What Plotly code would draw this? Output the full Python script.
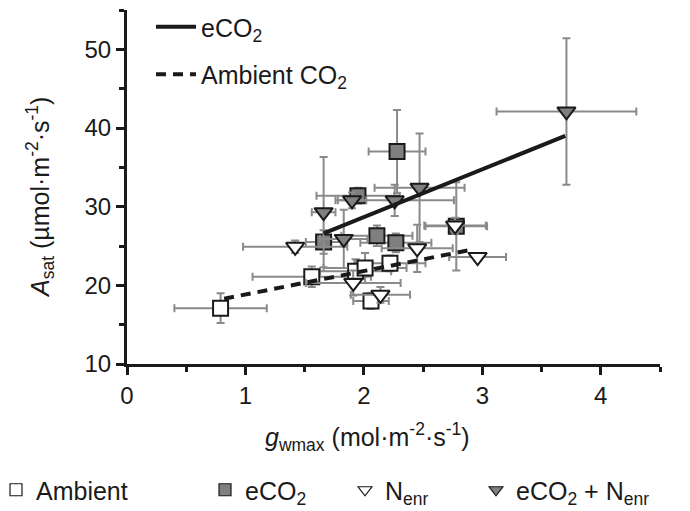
import plotly.graph_objects as go

# ---- data ----
amb_x = [0.79, 1.56, 1.93, 2.01, 2.22, 2.06]
amb_y = [17.1, 21.1, 21.8, 22.2, 22.8, 18.0]
amb_xerr = [0.39, 0.50, 0.30, 0.35, 0.30, 0.15]
amb_yerr = [1.9, 1.3, 1.5, 1.9, 1.0, 1.0]

eco2_x = [1.66, 1.95, 2.28, 2.11, 2.27, 2.78]
eco2_y = [25.5, 31.4, 37.0, 26.3, 25.4, 27.5]
eco2_xerr = [0.15, 0.35, 0.24, 0.30, 0.30, 0.26]
eco2_yerr = [1.5, 1.0, 5.3, 1.3, 1.2, 5.6]

nenr_x = [1.42, 1.91, 2.14, 2.45, 2.77, 2.96]
nenr_y = [24.9, 20.3, 18.8, 24.7, 27.6, 23.6]
nenr_xerr = [0.44, 0.40, 0.25, 0.30, 0.26, 0.24]
nenr_yerr = [0.8, 1.6, 1.0, 3.0, 1.0, 0.5]

en_x = [1.66, 1.83, 1.90, 2.26, 2.47, 3.71]
en_y = [29.3, 25.9, 30.8, 30.8, 32.4, 42.1]
en_xerr = [0.10, 0.20, 0.12, 0.50, 0.38, 0.59]
en_yerr = [7.0, 3.7, 1.0, 2.0, 6.9, 9.3]

fit_eco2_x = [1.66, 3.70]
fit_eco2_y = [26.6, 39.0]
fit_amb_x = [0.82, 2.90]
fit_amb_y = [18.3, 24.5]

x_ticks = [0, 1, 2, 3, 4]
y_ticks = [10, 20, 30, 40, 50]

FONT = "Liberation Sans, Arial, sans-serif"
GRAY = "#7f7f7f"
ERR = "#8a8a8a"
EDGE = "#1a1a1a"

fig = go.Figure()

def add_group(x, y, xe, ye, symbol, fill, size):
    fig.add_trace(go.Scatter(
        x=x, y=y, mode="markers", showlegend=False,
        marker=dict(symbol=symbol, size=size, color=fill,
                    line=dict(color=EDGE, width=2)),
        error_x=dict(type="data", array=xe, color=ERR, thickness=2, width=4),
        error_y=dict(type="data", array=ye, color=ERR, thickness=2, width=4),
    ))

add_group(amb_x, amb_y, amb_xerr, amb_yerr, "square", "white", 15)
add_group(eco2_x, eco2_y, eco2_xerr, eco2_yerr, "square", GRAY, 15)
add_group(nenr_x, nenr_y, nenr_xerr, nenr_yerr, "triangle-down", "white", 16)
add_group(en_x, en_y, en_xerr, en_yerr, "triangle-down", GRAY, 16)

# regression lines
fig.add_trace(go.Scatter(x=fit_eco2_x, y=fit_eco2_y, mode="lines",
                         name="eCO<sub>2</sub>", legendgroup="a",
                         line=dict(color="#1a1a1a", width=4)))
fig.add_trace(go.Scatter(x=fit_amb_x, y=fit_amb_y, mode="lines",
                         name="Ambient CO<sub>2</sub>", legendgroup="b",
                         line=dict(color="#1a1a1a", width=4, dash="10px,7px")))

# bottom legend entries (symbols only)
bottom = [("Ambient", "square", "white", "legend2"),
          ("eCO<sub>2</sub>", "square", GRAY, "legend3"),
          ("N<sub>enr</sub>", "triangle-down", "white", "legend4"),
          ("eCO<sub>2</sub> + N<sub>enr</sub>", "triangle-down", GRAY, "legend5")]
for name, sym, fill, lg in bottom:
    fig.add_trace(go.Scatter(x=[None], y=[None], mode="markers", name=name,
                             legend=lg,
                             marker=dict(symbol=sym, size=12, color=fill,
                                         line=dict(color=EDGE, width=1.2))))

# page body has an 8px margin; figure is sized to fit the window
OFF = 8
W, H = 690 - OFF, 511 - OFF
L, R, T = 127 - OFF, 30, 10 - OFF
B = H - (364 - OFF)
pw = W - L - R
ph = H - T - B

def px2paper(px):
    return (px - OFF - L) / pw

def py2paper(py):
    return (H - B - (py - OFF)) / ph

FS = 25
leg_common = dict(font=dict(family=FONT, size=FS, color="#1a1a1a"),
                  bgcolor="rgba(0,0,0,0)", orientation="h",
                  xanchor="left", yanchor="middle", itemwidth=30)

fig.update_layout(
    width=W, height=H,
    margin=dict(l=L, r=R, t=T, b=B, autoexpand=False),
    paper_bgcolor="white", plot_bgcolor="white",
    font=dict(family=FONT, size=FS, color="#1a1a1a"),
    legend=dict(x=px2paper(151), y=py2paper(4), xanchor="left", yanchor="top",
                font=dict(family=FONT, size=FS, color="#1a1a1a"),
                bgcolor="rgba(0,0,0,0)", tracegroupgap=12,
                traceorder="grouped", itemwidth=40),
    legend2=dict(leg_common, x=px2paper(-4), y=py2paper(490)),
    legend3=dict(leg_common, x=px2paper(205), y=py2paper(490)),
    legend4=dict(leg_common, x=px2paper(345), y=py2paper(490)),
    legend5=dict(leg_common, x=px2paper(476), y=py2paper(490)),
    xaxis=dict(range=[0, 4.5], tickvals=x_ticks, ticks="outside",
               ticklen=8, tickwidth=3, tickcolor="#1a1a1a",
               showline=True, linewidth=3, linecolor="#1a1a1a",
               showgrid=False, zeroline=False, automargin=False,
               tickfont=dict(family=FONT, size=24),
               minor=dict(dtick=0.5, ticks="outside", ticklen=5,
                          tickwidth=3, tickcolor="#1a1a1a", showgrid=False)),
    yaxis=dict(range=[10, 55], tickvals=y_ticks, ticks="outside",
               ticklen=8, tickwidth=3, tickcolor="#1a1a1a",
               showline=True, linewidth=3, linecolor="#1a1a1a",
               showgrid=False, zeroline=False, automargin=False,
               tickfont=dict(family=FONT, size=24),
               minor=dict(dtick=5, ticks="outside", ticklen=5,
                          tickwidth=3, tickcolor="#1a1a1a", showgrid=False)),
    annotations=[
        dict(text="<i>g</i><sub>wmax</sub> (mol·m<sup>-2</sup>·s<sup>-1</sup>)",
             xref="paper", yref="paper", x=px2paper(367), y=py2paper(437),
             xanchor="center", yanchor="middle", showarrow=False,
             font=dict(family=FONT, size=FS, color="#1a1a1a")),
        dict(text="<i>A</i><sub>sat</sub> (µmol·m<sup>-2</sup>·s<sup>-1</sup>)",
             xref="paper", yref="paper", x=px2paper(40), y=py2paper(198),
             xanchor="center", yanchor="middle", textangle=-90, showarrow=False,
             font=dict(family=FONT, size=FS, color="#1a1a1a")),
    ],
)

fig.write_html("out.html")
